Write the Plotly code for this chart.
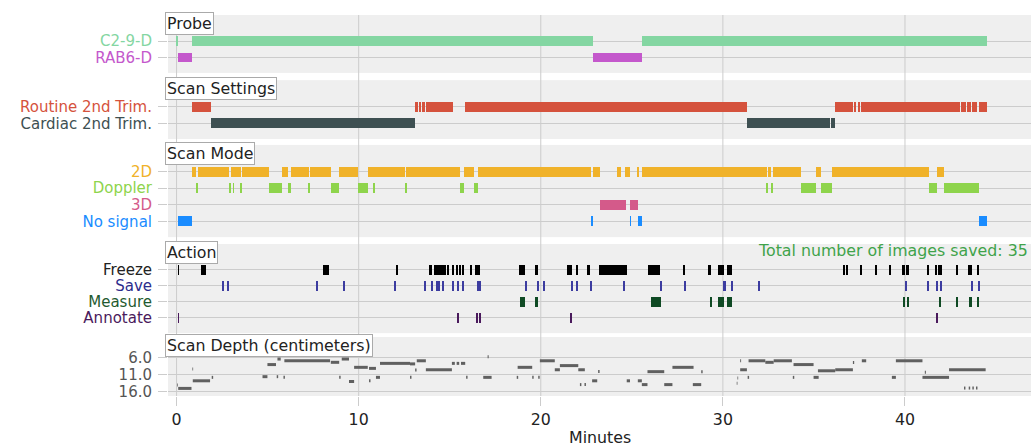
import plotly.graph_objects as go
from plotly.subplots import make_subplots

FONT = "DejaVu Sans"
FS = 15.8       # headers, axis ticks, captions
FS_ROW = 15.0   # lane labels (rows are tightly stacked)

# ---------------- Probe ----------------
probe_labels = ["C2-9-D", "RAB6-D"]
probe_colors = ["#84d6a2", "#c458cc"]
c29d_start = [0.02, 0.83, 25.58]
c29d_end = [0.06, 22.85, 44.49]
rab6d_start = [0.07, 22.85]
rab6d_end = [0.83, 25.58]

# ---------------- Scan settings ----------------
settings_labels = ["Routine 2nd Trim.", "Cardiac 2nd Trim."]
settings_colors = ["#d5523d", "#3e5052"]
routine_start = [0.83, 13.10, 13.30, 13.50, 13.68, 15.84, 36.16, 37.22, 37.40, 37.59, 43.06, 43.43, 43.70, 44.05]
routine_end = [1.88, 13.25, 13.45, 13.65, 15.20, 31.31, 37.17, 37.30, 37.53, 43.00, 43.36, 43.64, 43.98, 44.49]
cardiac_start = [1.88, 31.31, 35.93]
cardiac_end = [13.10, 35.88, 36.18]

# ---------------- Scan mode ----------------
mode_labels = ["2D", "Doppler", "3D", "No signal"]
mode_colors = ["#f0b22a", "#8ed44c", "#d45a8a", "#1a8cff"]
twod_start = [0.83, 1.16, 2.99, 3.58, 5.81, 6.27, 7.33, 8.92, 10.50, 12.60, 15.79, 16.58, 22.89,
              24.20, 24.33, 24.63, 25.31, 25.58, 32.48, 32.58, 32.74, 35.10, 35.98, 41.78]
twod_end = [1.05, 2.88, 3.54, 5.08, 6.14, 7.28, 8.48, 9.95, 12.55, 15.57, 16.34, 22.76, 23.24,
            24.26, 24.39, 24.92, 25.36, 32.41, 32.54, 32.64, 34.29, 35.38, 41.34, 42.15]
doppler_start = [1.07, 2.86, 3.10, 3.52, 5.10, 6.14, 7.26, 8.48, 9.95, 10.83, 12.55, 15.57, 16.35,
                 32.41, 32.63, 34.29, 35.38, 41.34, 42.15]
doppler_end = [1.13, 2.97, 3.15, 3.57, 5.81, 6.27, 7.32, 8.92, 10.50, 10.88, 12.62, 15.79, 16.57,
               32.50, 32.74, 35.10, 35.98, 41.78, 44.09]
threed_start = [23.26, 24.92]
threed_end = [24.67, 25.34]
nosignal_start = [0.10, 22.76, 24.90, 25.34, 44.09]
nosignal_end = [0.83, 22.89, 24.94, 25.58, 44.49]

# ---------------- Actions ----------------
action_labels = ["Freeze", "Save", "Measure", "Annotate"]
action_colors = ["#000000", "#3c3ca0", "#0f4a24", "#4a1a5c"]
action_label_colors = ["#222222", "#2c2c8c", "#1f5a2f", "#4a1a5c"]
freeze_start = [0.08, 1.33, 8.06, 12.05, 13.88, 14.16, 14.29, 14.40, 14.49, 14.60, 14.74, 14.87,
                15.15, 15.39, 15.55, 15.68, 16.14, 16.43, 16.57, 18.81, 19.69, 21.46, 21.96, 22.53,
                23.22, 25.91, 27.80, 29.20, 29.72, 30.21, 36.62, 36.78, 37.53, 38.36, 39.16, 39.82,
                40.05, 41.23, 41.65, 41.80, 42.79, 43.48, 43.98]
freeze_end = [0.12, 1.60, 8.37, 12.16, 14.05, 14.23, 14.34, 14.45, 14.54, 14.66, 14.79, 14.92,
              15.26, 15.48, 15.60, 15.75, 16.22, 16.53, 16.68, 19.14, 19.84, 21.70, 22.03, 22.71,
              24.72, 26.55, 27.92, 29.35, 30.08, 30.49, 36.68, 36.89, 37.63, 38.48, 39.22, 39.98,
              40.24, 41.28, 41.72, 42.02, 42.93, 43.67, 44.09]
save_times = [2.57, 2.85, 7.70, 9.20, 12.00, 13.65, 14.05, 14.31, 14.37, 14.42, 14.65, 15.20,
              15.48, 15.75, 16.54, 16.67, 19.18, 19.87, 20.18, 21.70, 22.00, 22.74, 24.59, 26.59,
              27.92, 30.08, 30.12, 30.49, 31.99, 40.04, 41.29, 41.75, 41.98, 43.67, 44.09]
measure_start = [18.86, 19.69, 26.06, 29.32, 29.75, 30.25, 39.90, 40.10, 41.87, 42.80, 43.52, 43.98]
measure_end = [19.14, 19.83, 26.59, 29.37, 30.08, 30.49, 39.98, 40.24, 41.98, 42.93, 43.67, 44.09]
annotate_start = [0.08, 15.38, 16.45, 16.61, 21.61, 41.69]
annotate_end = [0.12, 15.51, 16.54, 16.70, 21.74, 41.80]

# ---------------- Scan depth (cm) ----------------
depth_start = [0.03, 0.09, 0.87, 0.89, 1.93, 4.72, 4.99, 5.50, 5.54, 5.87, 5.92, 8.47, 8.93, 9.07,
               9.47, 9.75, 10.57, 10.57, 10.95, 11.17, 12.82, 12.82, 13.10, 13.19, 13.69, 15.12,
               15.38, 15.62, 15.90, 16.84, 17.08, 18.68, 18.73, 19.53, 19.86, 19.95, 20.77, 21.05,
               22.06, 22.15, 22.40, 22.82, 23.15, 24.72, 25.33, 25.55, 25.86, 26.78, 27.23, 28.35,
               28.81, 30.76, 30.80, 30.95, 30.95, 31.36, 31.41, 32.33, 32.79, 33.84, 33.88, 34.98,
               35.22, 36.17, 37.14, 37.63, 39.28, 39.50, 40.96, 41.09, 42.42, 43.24, 43.50, 43.70,
               43.90]
depth_end = [0.07, 0.82, 0.91, 1.84, 2.01, 4.99, 5.46, 5.58, 5.72, 5.95, 8.43, 8.93, 9.01, 9.47,
             9.75, 10.50, 10.65, 10.95, 11.17, 12.82, 12.90, 13.10, 13.18, 13.69, 15.12, 15.28,
             15.52, 15.85, 15.98, 17.30, 17.14, 18.76, 19.53, 19.61, 19.94, 20.77, 21.05, 22.06,
             22.42, 22.23, 22.48, 23.10, 23.23, 24.90, 25.55, 25.86, 26.78, 27.23, 28.39, 28.81,
             28.89, 30.80, 30.84, 31.00, 31.32, 31.44, 32.33, 32.79, 33.79, 33.92, 34.98, 35.26,
             36.17, 37.14, 37.21, 37.87, 39.50, 40.96, 42.42, 41.15, 44.43, 43.32, 43.58, 43.78,
             43.98]
depth_value = [14.0, 15.0, 9.4, 12.8, 11.8, 11.6, 8.1, 11.6, 6.5, 11.8, 7.0, 7.45, 11.8, 6.5,
               13.0, 8.9, 12.8, 9.2, 11.8, 7.75, 11.8, 7.9, 9.7, 7.0, 9.6, 7.75,
               7.75, 7.75, 11.8, 11.8, 5.8, 11.8, 8.9, 11.8, 11.8, 7.0, 9.6, 8.4,
               9.6, 13.9, 13.9, 12.8, 10.1, 12.8, 12.8, 13.9, 10.15, 13.9, 8.9, 13.9,
               10.15, 13.5, 12.0, 7.0, 9.6, 11.8, 7.0, 7.45, 7.0, 11.8, 8.1, 11.8,
               9.9, 9.6, 7.5, 7.0, 11.8, 7.0, 11.8, 10.3, 9.6, 14.9, 14.9, 14.9,
               14.9]
depth_ticks = [6.0, 11.0, 16.0]

x_ticks = [0, 10, 20, 30, 40]
panel_titles = ["Probe", "Scan Settings", "Scan Mode", "Action", "Scan Depth (centimeters)"]
total_text_color = "#3fa34a"

# vertical placement of the five panels (paper fractions, bottom to top per panel)
panel_domains = [[0.848, 1.0], [0.6745, 0.829], [0.417, 0.659], [0.165, 0.399], [0.0, 0.155]]

BAR_W = 0.6
GRID = "#cccccc"

fig = make_subplots(rows=5, cols=1, shared_xaxes=True, vertical_spacing=0.02)


def add_events(row, lane, starts, ends, color):
    fig.add_trace(
        go.Bar(
            orientation="h",
            base=starts,
            x=[e - s for s, e in zip(starts, ends)],
            y=[lane] * len(starts),
            width=BAR_W,
            marker=dict(color=color, line=dict(width=0)),
            showlegend=False,
            hoverinfo="skip",
        ),
        row=row, col=1,
    )


add_events(1, 0, c29d_start, c29d_end, probe_colors[0])
add_events(1, 1, rab6d_start, rab6d_end, probe_colors[1])

add_events(2, 0, routine_start, routine_end, settings_colors[0])
add_events(2, 1, cardiac_start, cardiac_end, settings_colors[1])

add_events(3, 0, twod_start, twod_end, mode_colors[0])
add_events(3, 1, doppler_start, doppler_end, mode_colors[1])
add_events(3, 2, threed_start, threed_end, mode_colors[2])
add_events(3, 3, nosignal_start, nosignal_end, mode_colors[3])

SAVE_HALF = 0.035
add_events(4, 0, freeze_start, freeze_end, action_colors[0])
add_events(4, 1, [t - SAVE_HALF for t in save_times], [t + SAVE_HALF for t in save_times], action_colors[1])
add_events(4, 2, measure_start, measure_end, action_colors[2])
add_events(4, 3, annotate_start, annotate_end, action_colors[3])

# depth segments as one broken line
dx, dy = [], []
for s, e, v in zip(depth_start, depth_end, depth_value):
    dx += [s, e, None]
    dy += [v, v, None]
fig.add_trace(
    go.Scatter(x=dx, y=dy, mode="lines", line=dict(color="#606060", width=3),
               showlegend=False, hoverinfo="skip"),
    row=5, col=1,
)


def colored(labels, colors):
    return [f'<span style="color:{c}">{t}</span>' for t, c in zip(labels, colors)]


cat_panels = [
    (probe_labels, probe_colors),
    (settings_labels, settings_colors),
    (mode_labels, mode_colors),
    (action_labels, action_label_colors),
]

for i, (labels, colors) in enumerate(cat_panels, start=1):
    n = len(labels)
    fig.update_yaxes(
        row=i, col=1,
        domain=panel_domains[i - 1],
        range=[n - 1 + 0.95, -1.6],
        tickmode="array",
        tickvals=list(range(n)),
        ticktext=colored(labels, colors),
        ticks="outside", ticklen=9, tickcolor=GRID, tickwidth=1,
        showgrid=True, gridcolor=GRID, gridwidth=1,
        zeroline=False, showline=False,
        tickfont=dict(family=FONT, size=FS_ROW),
        ticklabelstandoff=3,
    )

fig.update_yaxes(
    row=5, col=1,
    domain=panel_domains[4],
    range=[17.2, 0.1],
    tickmode="array",
    tickvals=depth_ticks,
    ticktext=[f"{v:.1f}" for v in depth_ticks],
    ticks="outside", ticklen=9, tickcolor=GRID, tickwidth=1,
    showgrid=True, gridcolor=GRID, gridwidth=1,
    zeroline=False, showline=False,
    tickfont=dict(family=FONT, size=FS_ROW, color="#555555"),
    ticklabelstandoff=3,
)

fig.update_xaxes(
    range=[-0.47, 46.92],
    showgrid=False, zeroline=False, showline=False,
    tickvals=x_ticks,
)
fig.update_xaxes(
    row=5, col=1,
    ticks="outside", ticklen=9, tickcolor=GRID, tickwidth=1,
    tickfont=dict(family=FONT, size=FS, color="#222222"),
    showticklabels=True,
)

# vertical grid lines running through all panels
for t in x_ticks:
    fig.add_shape(type="line", xref="x", yref="paper", x0=t, x1=t, y0=0, y1=1,
                  line=dict(color=GRID, width=1), layer="below")

# panel headers
for title, dom in zip(panel_titles, panel_domains):
    fig.add_annotation(
        text=title, xref="paper", yref="paper", x=-0.003, y=dom[1] + 0.007,
        xanchor="left", yanchor="top", showarrow=False,
        font=dict(family=FONT, size=FS, color="#222222"),
        bgcolor="white", bordercolor="#aaaaaa", borderwidth=1, borderpad=1,
    )

fig.add_annotation(
    text=f"Total number of images saved: {len(save_times)}",
    xref="paper", yref="paper", x=0.999, y=0.383, xanchor="right", yanchor="middle",
    showarrow=False, font=dict(family=FONT, size=FS, color=total_text_color),
)

fig.add_annotation(
    text="Minutes", xref="paper", yref="paper", x=0.5, y=-0.108,
    xanchor="center", yanchor="middle", showarrow=False,
    font=dict(family=FONT, size=FS, color="#222222"),
)

fig.update_layout(
    width=1033, height=447,
    margin=dict(l=168, r=2, t=15, b=51),
    paper_bgcolor="white", plot_bgcolor="#efefef",
    barmode="overlay", bargap=0,
    font=dict(family=FONT, size=FS, color="#222222"),
    showlegend=False,
)

fig.write_html("out.html")
